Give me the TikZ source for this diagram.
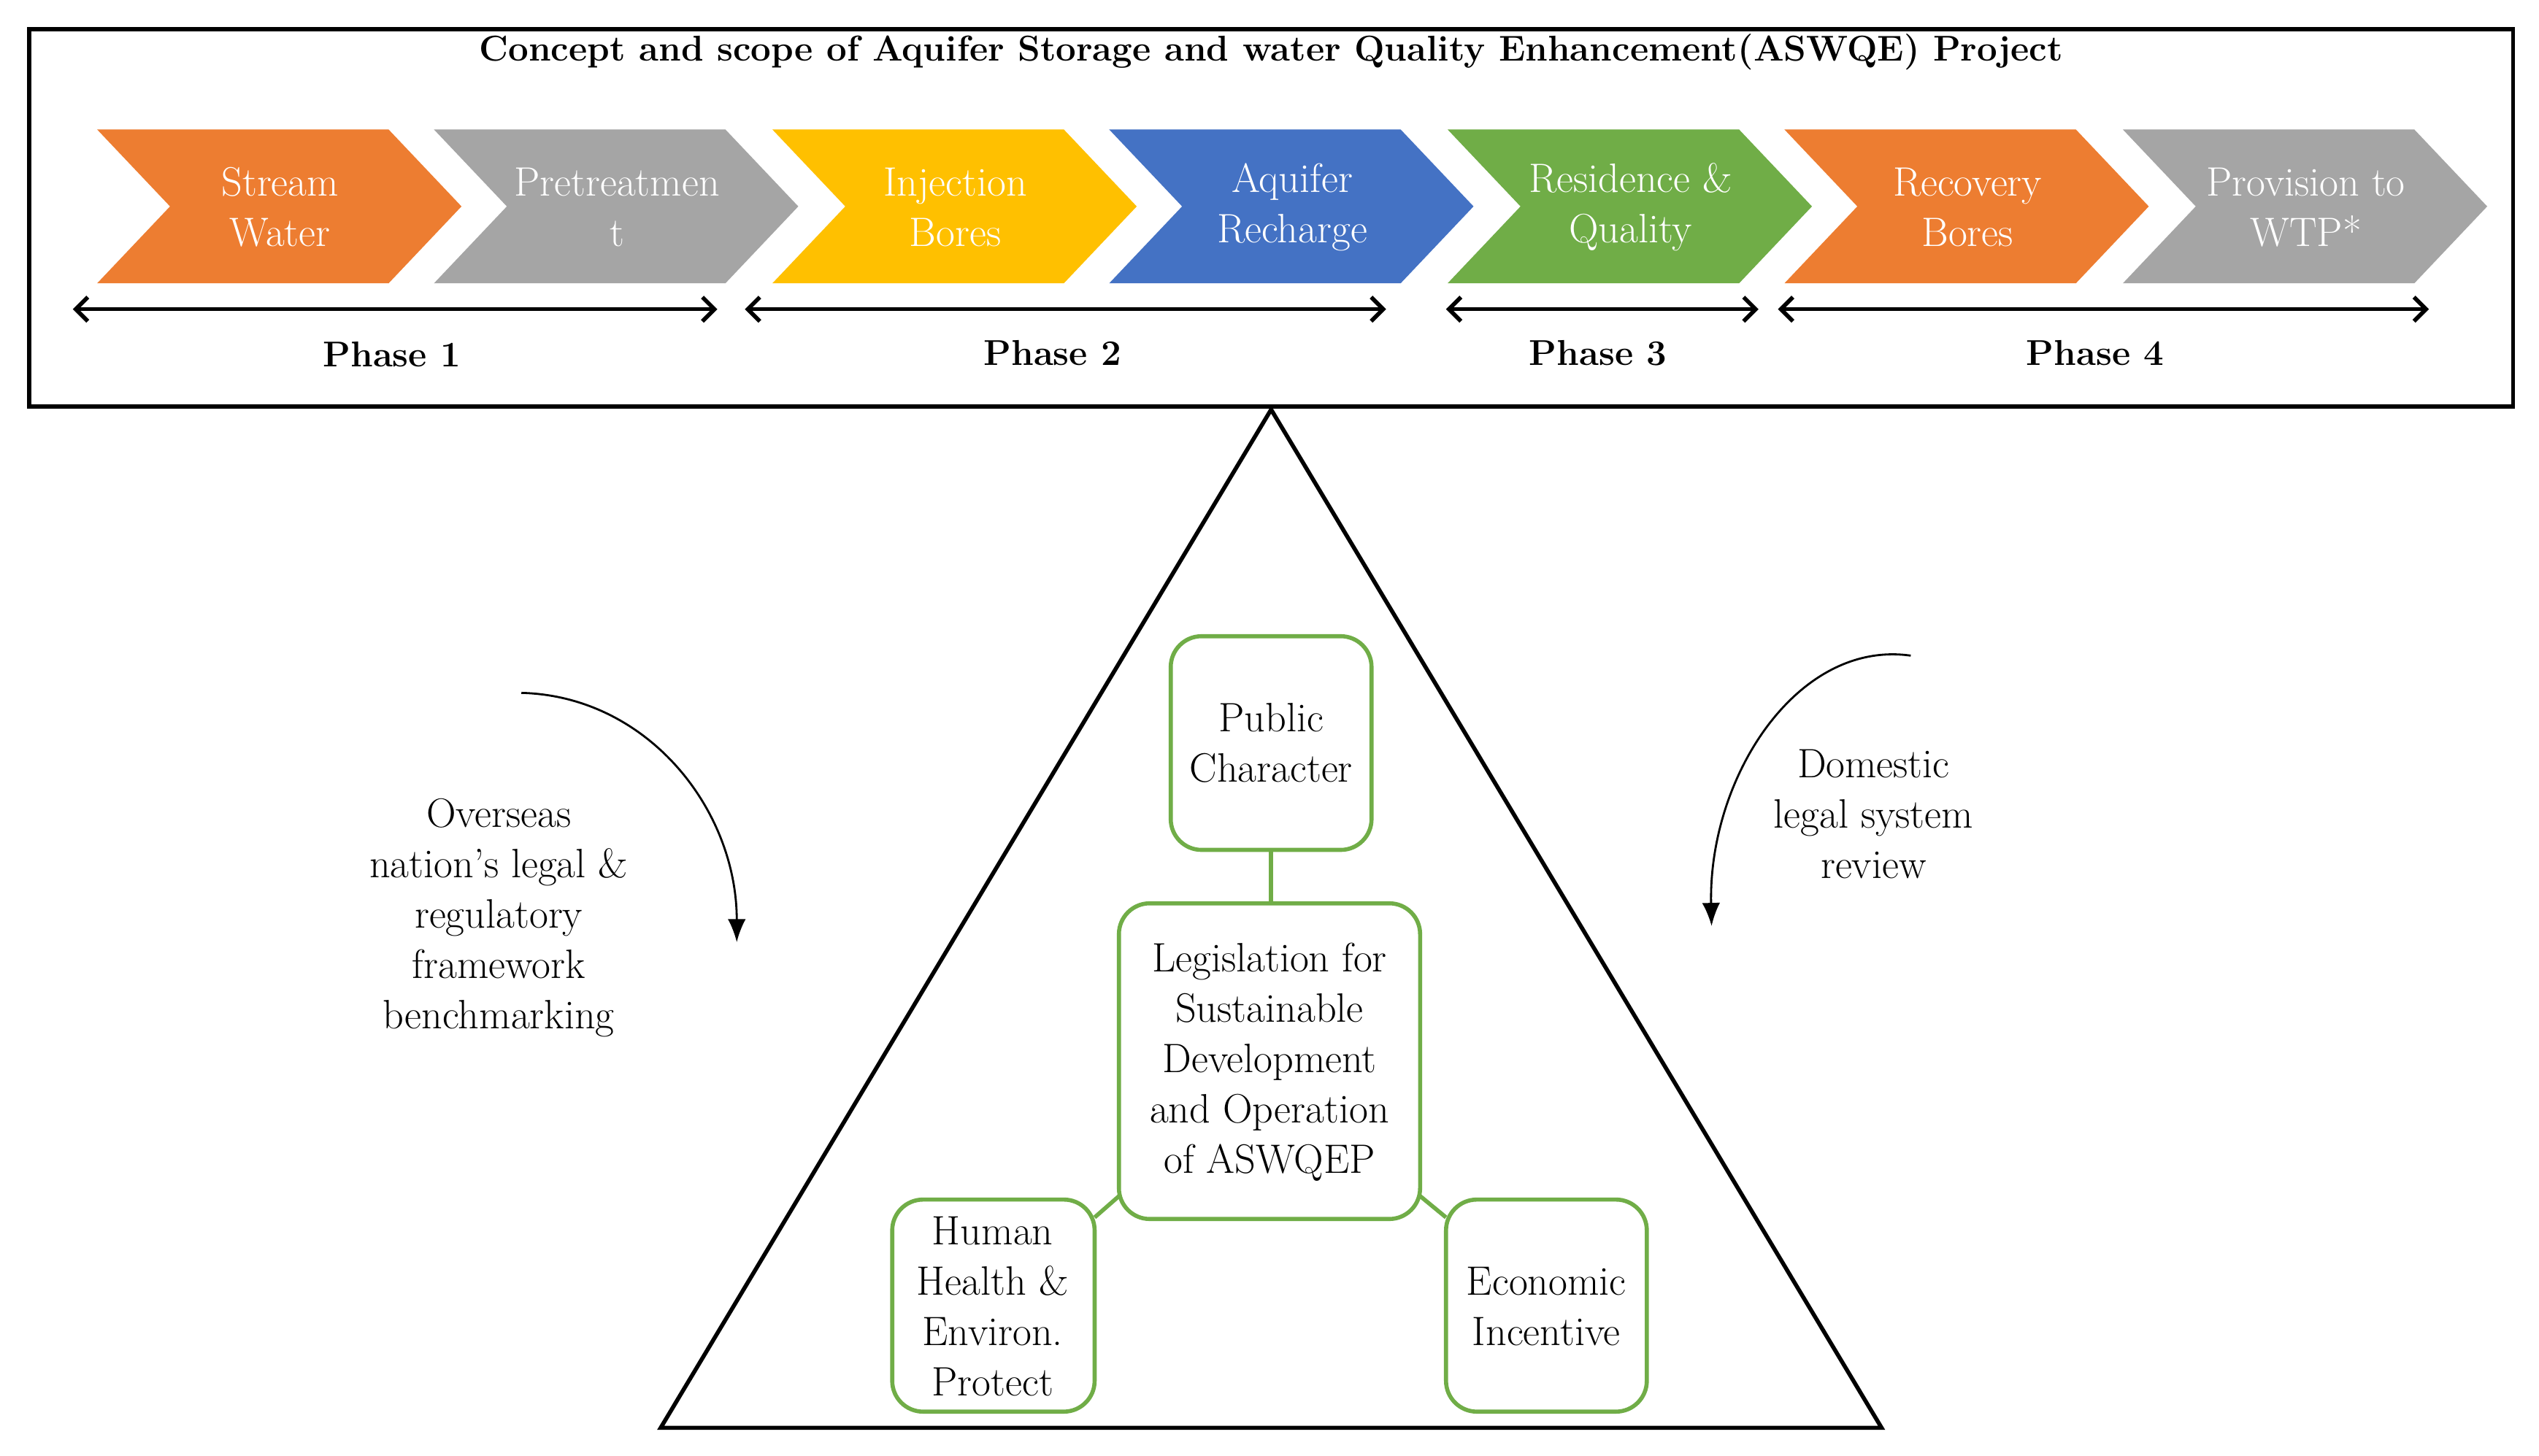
\documentclass[tikz,border=0pt]{standalone}
\usetikzlibrary{arrows.meta}
\definecolor{cor}{HTML}{ED7D31}
\definecolor{cgr}{HTML}{A5A5A5}
\definecolor{cye}{HTML}{FFC000}
\definecolor{cbl}{HTML}{4472C4}
\definecolor{cgn}{HTML}{70AD47}
\begin{document}
\begin{tikzpicture}[x=0.02218cm,y=-0.02218cm,
  chev/.style={fill=#1,draw=none},
  ctext/.style={text=white,align=center,font=\fontsize{16}{19.6}\selectfont},
  phase/.style={Straight Barb-Straight Barb,line width=1.6pt},
  plabel/.style={font=\fontsize{14}{17}\selectfont\bfseries},
  gbox/.style={draw=cgn,line width=1.6pt,rounded corners=12pt,fill=white},
  btext/.style={align=center,font=\fontsize{16}{19.6}\selectfont},
  gline/.style={draw=cgn,line width=1.6pt}]
\useasboundingbox (0,0) rectangle (1568,899);
\draw[line width=1.6pt] (18,18) rectangle (1552,251);
\node[font=\fontsize{14}{17}\selectfont\bfseries] (title) at (785,32) {Concept and scope of Aquifer Storage and water Quality Enhancement(ASWQE) Project};
\foreach \s/\c/\t [count=\i] in {60/cor/{Stream\\Water},268/cgr/{Pretreatmen\\t},477/cye/{Injection\\Bores},685/cbl/{Aquifer\\Recharge},894/cgn/{Residence \&\\Quality},1102/cor/{Recovery\\Bores},1311/cgr/{Provision to\\WTP*}}{
  \fill[\c] (\s,80) -- (\s+180,80) -- (\s+225,127.5) -- (\s+180,175) -- (\s,175) -- (\s+45,127.5) -- cycle;
  \node[ctext] (ch\i) at (\s+113,128) {\t};
}
\coordinate (p1a) at (45,191); \coordinate (p1b) at (443,191);
\coordinate (p2a) at (460,191); \coordinate (p2b) at (856,191);
\coordinate (p3a) at (893,191); \coordinate (p3b) at (1086,191);
\coordinate (p4a) at (1098,191); \coordinate (p4b) at (1500,191);
\draw[phase] (p1a) -- (p1b); \draw[phase] (p2a) -- (p2b);
\draw[phase] (p3a) -- (p3b); \draw[phase] (p4a) -- (p4b);
\node[plabel] (ph1) at (242,219) {Phase 1};
\node[plabel] (ph2) at (650,218) {Phase 2};
\node[plabel] (ph3) at (987,218) {Phase 3};
\node[plabel] (ph4) at (1294,218) {Phase 4};
\draw[line width=1.6pt,line join=miter] (785,253) -- (1162,882) -- (408,882) -- cycle;
\draw[gbox] (723,393) rectangle (847,525);
\node[btext] (pub) at (785,459) {Public\\Character};
\draw[gbox] (691,558) rectangle (877,753);
\node[btext] (leg) at (784,656) {Legislation for\\Sustainable\\Development\\and Operation\\of ASWQEP};
\draw[gbox] (551,741) rectangle (676,872);
\node[btext] (hum) at (613,807) {Human\\Health \&\\Environ.\\Protect};
\draw[gbox] (893,741) rectangle (1017,872);
\node[btext] (eco) at (955,807) {Economic\\Incentive};
\draw[gline] (785,525) -- (785,558);
\draw[gline] (676,752) -- (692,738);
\draw[gline] (876,738) -- (893,752);
\node[btext] (ov) at (308,567) {Overseas\\nation's legal \&\\regulatory\\framework\\benchmarking};
\node[btext] (dom) at (1157,503) {Domestic\\legal system\\review};
\coordinate (a1) at (322,428); \coordinate (a2) at (455,582);
\draw[-{Latex[length=9pt,width=7pt]},line width=0.8pt] (a1) .. controls (400,430) and (455,500) .. (a2);
\coordinate (b1) at (1180,405); \coordinate (b2) at (1057,572);
\draw[-{Latex[length=9pt,width=7pt]},line width=0.8pt] (b1) .. controls (1110,395) and (1055,480) .. (b2);
\end{tikzpicture}
\end{document}
